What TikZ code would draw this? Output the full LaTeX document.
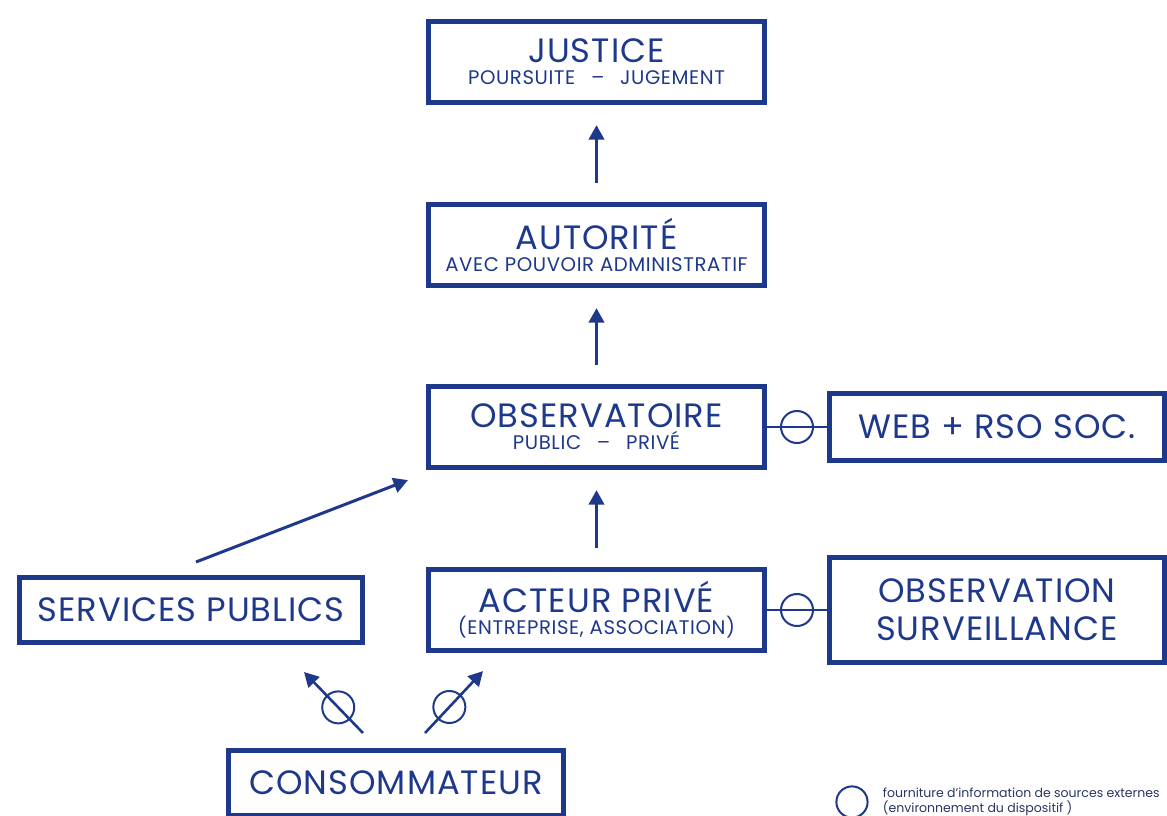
\documentclass[tikz,border=0pt]{standalone}
\usepackage{fontspec}
\setmainfont{Poppins}[LetterSpace=3]
\newfontfamily\legfont{Poppins}
\usetikzlibrary{arrows.meta,
                positioning
            }
\definecolor{obsblue}{RGB}{30,56,140}
\definecolor{legblue}{RGB}{40,52,100}

\begin{document}
\begin{tikzpicture}[x=0.025cm, y=-0.025cm,
        box/.style={draw=obsblue, line width=0.125cm, text=obsblue, align=center, inner sep=0pt},
        colbox/.style={box, minimum width=8.4cm, minimum height=2.03cm},
        big/.style={font=\fontsize{24}{24}\selectfont},
        flow/.style={-{Triangle[length=0.36cm, width=0.38cm]}, draw=obsblue, line width=0.075cm},
        ring/.style={circle, draw=obsblue, line width=0.05cm, minimum size=0.8cm, inner sep=0pt},
        link/.style={draw=obsblue, line width=0.045cm}]
            \useasboundingbox (0,0) rectangle (1167,816);
            \clip (0,0) rectangle (1167,816);
            % main column
            \node[colbox, big] (jus) at (596.5, 62) {JUSTICE\\[-8.2pt]{\fontsize{14}{14}\selectfont POURSUITE\hspace{0.8em}–\hspace{0.8em}JUGEMENT}};
            \node[colbox, big] (aut) at (596.5, 245) {AUTORITÉ\\[-8.2pt]{\fontsize{14}{14}\selectfont AVEC POUVOIR ADMINISTRATIF}};
            \node[colbox, big] (obs) at (596.5, 427) {OBSERVATOIRE\\[-8.2pt]{\fontsize{14}{14}\selectfont PUBLIC\hspace{0.8em}–\hspace{0.8em}PRIVÉ}};
            \node[colbox, big] (act) at (596.5, 610) {ACTEUR PRIVÉ\\[-8.2pt]{\fontsize{14}{14}\selectfont (ENTREPRISE, ASSOCIATION)}};
            % side boxes
            \node[box, big, minimum width=8.375cm, minimum height=1.675cm] (web) at (997, 427) {WEB + RSO SOC.};
            \node[box, big, minimum width=8.375cm, minimum height=2.625cm] (surv) at (997, 610) {OBSERVATION\\[3pt]SURVEILLANCE};
            \node[box, big, minimum width=8.575cm, minimum height=1.625cm] (svc) at (191, 610) {SERVICES PUBLICS};
            \node[box, big, minimum width=8.375cm, minimum height=1.625cm] (cons) at (396, 783) {CONSOMMATEUR};
            % arrows up the column
            \draw[flow, shorten <=0.475cm, shorten >=0.5cm] (aut) -- (jus);
            \draw[flow, shorten <=0.475cm, shorten >=0.5cm] (obs) -- (aut);
            \draw[flow, shorten <=0.475cm, shorten >=0.5cm] (act) -- (obs);
            \draw[flow] ([xshift=0.125cm, yshift=0.325cm]svc.north) -- ([xshift=-0.45cm, yshift=-0.25cm]obs.south west);
            % consumer links
            \draw[flow, line width=0.065cm] ([xshift=-0.825cm, yshift=0.375cm]cons.north) -- node[ring, pos=0.42] (ringsvc) {} ([xshift=-1.525cm, yshift=-0.675cm]svc.south east);
            \draw[flow, line width=0.065cm] ([xshift=0.725cm, yshift=0.375cm]cons.north) -- node[ring, pos=0.42] (ringact) {} ([xshift=1.425cm, yshift=-0.45cm]act.south west);
            % external sources
            \draw[link] (obs) -- node[ring] (ringweb) {} (web);
            \draw[link] (act) -- node[ring] (ringsurv) {} (surv);
            % legend
            \node[ring, minimum size=0.78cm] (legring) at (852, 802) {};
            \node[anchor=west, text=legblue, align=left, font=\legfont\fontsize{8.9}{10.6}\selectfont] (legtxt) at (878, 802) {fourniture d’information de sources externes\\(environnement du dispositif )};
        \end{tikzpicture}
\end{document}
